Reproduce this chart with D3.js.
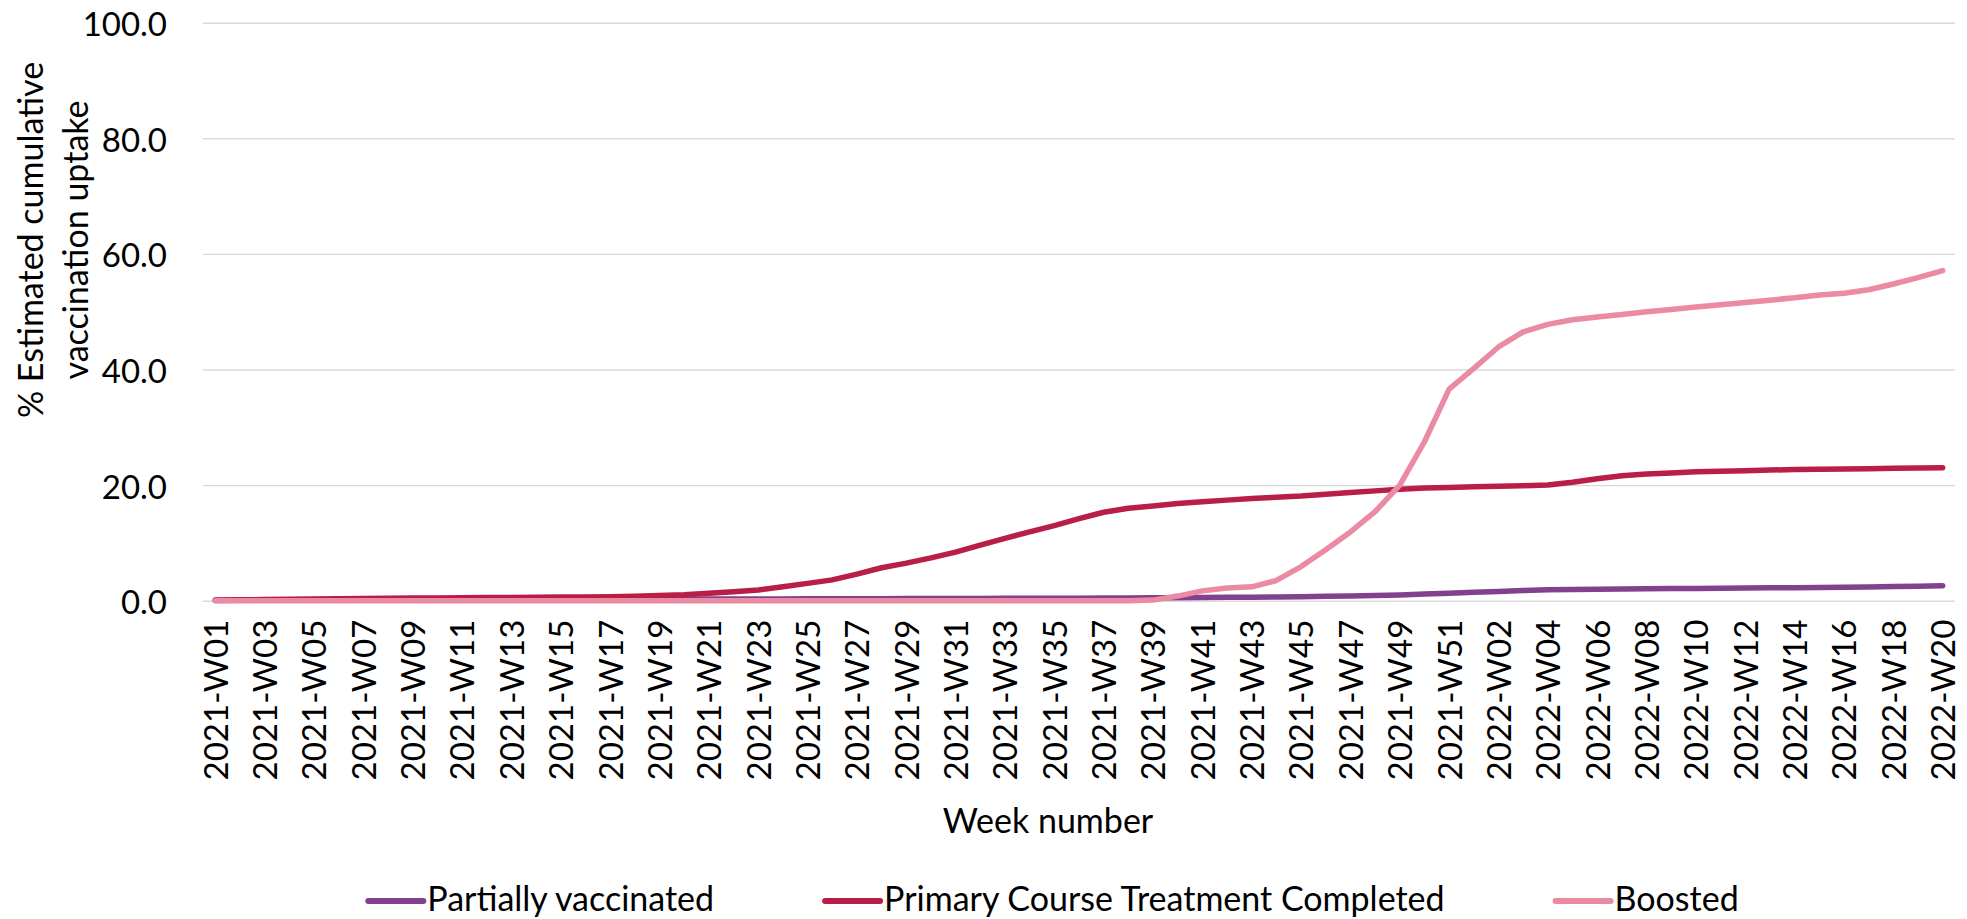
<!DOCTYPE html>
<html>
<head>
<meta charset="utf-8">
<script src="https://cdn.jsdelivr.net/npm/d3@7"></script>
<style>
  html, body { margin: 0; padding: 0; background: #ffffff; }
  svg { display: block; }
  text { font-family: Lato, "Open Sans", sans-serif; fill: #000; }
</style>
</head>
<body>
<svg id="chart" width="1967" height="919"></svg>
<script>
// ---------- DATA ----------
const weeks2021 = d3.range(1, 53).map(w => "2021-W" + String(w).padStart(2, "0"));
const weeks2022 = d3.range(2, 21).map(w => "2022-W" + String(w).padStart(2, "0"));
const weeks = weeks2021.concat(weeks2022);

const seriesNames = ["Partially vaccinated", "Primary Course Treatment Completed", "Boosted"];
const seriesColors = ["#82418D", "#B91E47", "#EA8AA3"];

const partiallyVaccinated = [
  0.05, 0.06, 0.08, 0.10, 0.11, 0.12, 0.14, 0.15, 0.16, 0.17,
  0.18, 0.19, 0.20, 0.21, 0.22, 0.23, 0.24, 0.25, 0.26, 0.27,
  0.28, 0.29, 0.30, 0.31, 0.32, 0.33, 0.34, 0.35, 0.36, 0.37,
  0.38, 0.40, 0.41, 0.42, 0.43, 0.44, 0.46, 0.48, 0.50, 0.52,
  0.55, 0.58, 0.61, 0.65, 0.70, 0.76, 0.83, 0.91, 1.00, 1.14,
  1.30, 1.45,
  1.60, 1.76, 1.88, 1.95, 2.00, 2.04, 2.07, 2.10, 2.13, 2.16,
  2.19, 2.22, 2.26, 2.30, 2.34, 2.39, 2.45, 2.52, 2.60
];
const primaryCompleted = [
  0.10, 0.15, 0.20, 0.25, 0.30, 0.34, 0.38, 0.42, 0.45, 0.48,
  0.51, 0.54, 0.57, 0.60, 0.63, 0.66, 0.70, 0.78, 0.90, 1.05,
  1.30, 1.55, 1.85, 2.40, 3.00, 3.60, 4.60, 5.70, 6.50, 7.40,
  8.40, 9.60, 10.8, 11.9, 13.0, 14.2, 15.3, 16.0, 16.4, 16.8,
  17.1, 17.4, 17.7, 17.9, 18.1, 18.4, 18.7, 19.0, 19.3, 19.5,
  19.6, 19.7,
  19.8, 19.9, 20.0, 20.5, 21.1, 21.6, 21.9, 22.1, 22.3, 22.4,
  22.5, 22.6, 22.7, 22.75, 22.8, 22.85, 22.9, 22.95, 23.0
];
const boosted = [
  0, 0, 0, 0, 0, 0, 0, 0, 0, 0,
  0, 0, 0, 0, 0, 0, 0, 0, 0, 0,
  0, 0, 0, 0, 0, 0, 0, 0, 0, 0,
  0, 0, 0, 0, 0, 0, 0, 0, 0.1, 0.8,
  1.7, 2.2, 2.4, 3.5, 5.9, 8.8, 11.9, 15.4, 20.0, 27.5,
  36.6, 40.2,
  43.9, 46.5, 47.8, 48.6, 49.1, 49.5, 50.0, 50.4, 50.8, 51.2,
  51.6, 52.0, 52.4, 52.9, 53.2, 53.8, 54.8, 55.9, 57.1
];
const yTicks = [0, 20, 40, 60, 80, 100];
const yTitleLines = ["% Estimated cumulative", "vaccination uptake"];
const xTitle = "Week number";

const seriesValues = [partiallyVaccinated, primaryCompleted, boosted];

// ---------- LAYOUT ----------
const plot = { left: 203, right: 1955, top: 22.7, bottom: 600.7 };
const FONT = 33;
const capH = FONT * 0.72;

const svg = d3.select("#chart");

const x = d3.scalePoint().domain(weeks).range([plot.left, plot.right]).padding(0.5);
const y = d3.scaleLinear().domain([0, 100]).range([plot.bottom, plot.top]);

// Y axis with gridlines
const yAxis = d3.axisLeft(y)
  .tickValues(yTicks)
  .tickFormat(d3.format(".1f"))
  .tickSize(-(plot.right - plot.left))
  .tickPadding(36);
const gy = svg.append("g").attr("transform", `translate(${plot.left},0)`).call(yAxis);
gy.select(".domain").remove();
gy.selectAll(".tick line").attr("stroke", "#D9D9D9").attr("stroke-width", 1.4);
gy.selectAll(".tick text")
  .attr("font-size", FONT)
  .attr("font-family", "Lato")
  .attr("fill", "#000")
  .attr("dy", null)
  .attr("dominant-baseline", "central");

// X axis
const xAxis = d3.axisBottom(x)
  .tickValues(weeks.filter((d, i) => i % 2 === 0))
  .tickSize(0)
  .tickPadding(0);
const gx = svg.append("g").attr("transform", `translate(0,${plot.bottom})`).call(xAxis);
gx.select(".domain").remove();
gx.selectAll(".tick text")
  .attr("font-size", FONT)
  .attr("font-family", "Lato")
  .attr("fill", "#000")
  .attr("x", 0).attr("y", 0).attr("dy", null)
  .attr("text-anchor", "end")
  .attr("transform", `translate(${capH / 2},19) rotate(-90)`);

// Lines
const line = d3.line()
  .x((d, i) => x(weeks[i]))
  .y(d => y(d));

svg.append("g").selectAll("path")
  .data(seriesValues)
  .join("path")
  .attr("d", d => line(d))
  .attr("fill", "none")
  .attr("stroke", (d, i) => seriesColors[i])
  .attr("stroke-width", 5.5)
  .attr("stroke-linecap", "round")
  .attr("stroke-linejoin", "round");

// Y title
const yt = svg.append("text")
  .attr("transform", "translate(43,240) rotate(-90)")
  .attr("text-anchor", "middle")
  .attr("font-size", FONT + 1);
yt.selectAll("tspan").data(yTitleLines).join("tspan")
  .attr("x", 0)
  .attr("dy", (d, i) => i === 0 ? 0 : 45)
  .text(d => d);

// X title
svg.append("text")
  .attr("x", 1048).attr("y", 833)
  .attr("text-anchor", "middle")
  .attr("font-size", FONT + 1)
  .text(xTitle);

// Legend
const legend = svg.append("g");
const items = legend.selectAll("g").data(seriesNames).join("g");
items.append("line")
  .attr("x1", 0).attr("x2", 55)
  .attr("y1", -10).attr("y2", -10)
  .attr("stroke", (d, i) => seriesColors[i])
  .attr("stroke-width", 6)
  .attr("stroke-linecap", "round");
items.append("text")
  .attr("x", 59).attr("y", 0)
  .attr("font-size", FONT + 1)
  .text(d => d);
const widths = [];
items.each(function () { widths.push(59 + d3.select(this).select("text").node().getComputedTextLength()); });
const gap = 111;
const total = d3.sum(widths) + gap * (widths.length - 1);
let cx = 1053.5 - total / 2;
items.attr("transform", (d, i) => {
  const t = `translate(${cx},911)`;
  cx += widths[i] + gap;
  return t;
});
</script>
</body>
</html>
